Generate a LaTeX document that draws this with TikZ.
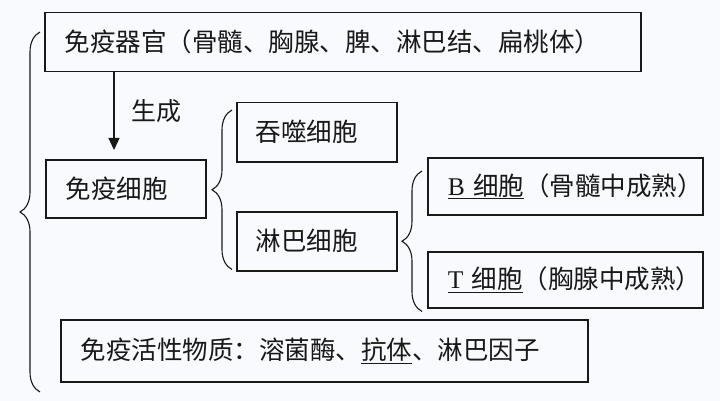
\documentclass[tikz,border=0pt]{standalone}
\usepackage{fontspec}
\setmainfont{Noto Sans CJK SC}
\newfontfamily\lserif{Liberation Serif}
\usetikzlibrary{decorations.pathreplacing,arrows.meta,calc}
\definecolor{bgc}{RGB}{249,250,253}
\definecolor{ink}{RGB}{25,25,25}
\begin{document}
\begin{tikzpicture}[x=1pt,y=-1pt,
  box/.style={draw=ink,line width=1.5pt,anchor=north west,inner ysep=0pt,
    align=left,font=\fontsize{25.5}{30}\selectfont,text=ink},
  brc/.style={draw=ink,line width=1.1pt,decorate,decoration={brace,amplitude=#1}},
  arr/.style={draw=ink,line width=1.3pt,-{Triangle[length=12pt,width=11pt]}}]
\path[fill=bgc] (0,0) rectangle (720,401);
\node[box,inner xsep=20pt,text width=556pt,minimum height=59pt] (organ) at (44,12)
  {免疫器官（骨髓、胸腺、脾、淋巴结、扁桃体）};
\node[box,inner xsep=20pt,text width=120pt,minimum height=58pt] (imm) at (45,159)
  {免疫细胞};
\node[box,inner xsep=19pt,text width=122pt,minimum height=59pt] (phago) at (236,102)
  {吞噬细胞};
\node[box,inner xsep=19pt,text width=122pt,minimum height=59pt] (lymph) at (236,211)
  {淋巴细胞};
\node[box,inner xsep=20pt,text width=235pt,minimum height=57pt] (bcell) at (427,157)
  {\underline{{\lserif B} 细胞}（骨髓中成熟）};
\node[box,inner xsep=20pt,text width=235pt,minimum height=56pt] (tcell) at (427,251)
  {\underline{{\lserif T} 细胞}（胸腺中成熟）};
\node[box,inner xsep=20pt,text width=487pt,minimum height=62pt] (subst) at (60,319)
  {免疫活性物质：溶菌酶、\underline{抗体}、淋巴因子};
\coordinate (ax) at (114,0);
\draw[arr] (organ.south -| ax) -- ([yshift=9pt]imm.north -| ax)
  node[midway,right=14pt,font=\fontsize{25}{30}\selectfont,text=ink] (gen) {生成};
\draw[brc=20pt] (40,392) -- (40,32);
\draw[brc=20pt] ($(lymph.south west)+(-4,-2)$) -- ($(phago.north west)+(-4,8)$);
\draw[brc=20pt] ($(tcell.south west)+(-5,3)$) -- ($(bcell.north west)+(-5,14)$);
\end{tikzpicture}
\end{document}
